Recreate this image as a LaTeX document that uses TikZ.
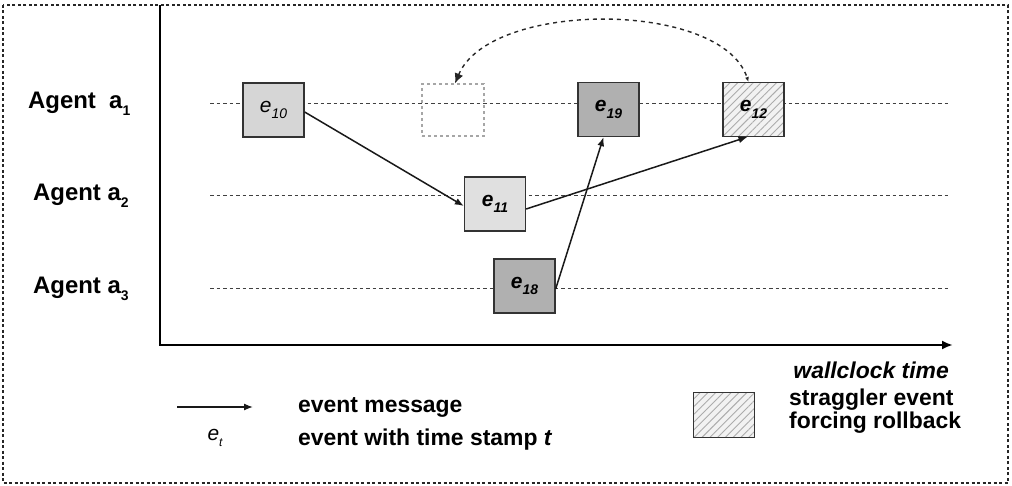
\documentclass[tikz,border=0pt]{standalone}
\usepackage{fontspec}
\setmainfont{Liberation Sans}
\usetikzlibrary{arrows.meta,patterns.meta}

% lowered small index, as in "a_1"
\newcommand{\lowidx}[2][14]{\raisebox{-0.3em}{\fontsize{#1}{#1}\selectfont #2}}
\newcommand{\evlabel}[1]{\fontsize{21}{21}\selectfont\itshape e\lowidx[14]{#1}}

\tikzset{
  frame/.style={line width=1.8bp, dash pattern=on 3bp off 2.5bp, black!85},
  axis/.style={line width=2.4bp, black, -{Latex[length=11bp,width=9bp]}},
  lane/.style={line width=1bp, dash pattern=on 3.5bp off 3bp, black!75},
  evbox/.style={draw=black!80, line width=1.3bp, minimum width=61bp,
    minimum height=54bp, inner sep=0pt},
  light/.style={evbox, fill=gray!32},
  lighter/.style={evbox, fill=gray!24},
  dark/.style={evbox, fill=gray!62},
  straggler/.style={evbox, preaction={fill=gray!10},
    pattern={Lines[angle=45,distance=5.5bp,line width=0.9bp]}, pattern color=gray!65},
  ghost/.style={draw=gray!70, line width=1.2bp, dash pattern=on 3bp off 3bp,
    minimum width=62bp, minimum height=52bp, inner sep=0pt},
  msg/.style={line width=1.5bp, black!90, -{Latex[length=9bp,width=7bp]}},
  rollback/.style={line width=1.4bp, black!85, dash pattern=on 4bp off 4bp,
    {Latex[length=10bp,width=9bp]}-{Latex[length=5bp,width=4bp]}},
  agent/.style={font=\fontsize{24}{26}\selectfont\bfseries, anchor=west, inner sep=0pt},
  legend/.style={font=\fontsize{23}{26}\selectfont\bfseries, anchor=west, inner sep=0pt},
}

\begin{document}
\begin{tikzpicture}[x=1bp,y=-1bp]
  \useasboundingbox (0,0) rectangle (1012,486);

  % outer dashed frame
  \draw[frame] (3,5) rectangle (1008,483);

  % time axes
  \coordinate (ytop) at (160,5);
  \coordinate (origin) at (160,345);
  \coordinate (xend) at (953,345);
  \draw[axis] (ytop) -- (origin) -- (xend);

  % agent lanes
  \foreach \k/\y in {1/104, 2/196, 3/289} {
    \coordinate (l\k s) at (210,\y);
    \coordinate (l\k e) at (950,\y);
    \draw[lane] (l\k s) -- (l\k e);
  }

  % agent labels
  \node[agent] (A1) at (28,104) {Agent\ \ a\lowidx{1}};
  \node[agent] (A2) at (33,196) {Agent a\lowidx{2}};
  \node[agent] (A3) at (33,289) {Agent a\lowidx{3}};

  % events
  \node[light]     (e10)   at (273.5,110) {\evlabel{10}};
  \node[ghost]     (ghost) at (453,110)   {};
  \node[dark]      (e19)   at (608.5,109.5) {\bfseries\evlabel{19}};
  \node[straggler] (e12)   at (753.5,109.5) {\bfseries\evlabel{12}};
  \node[lighter]   (e11)   at (495,204)   {\bfseries\evlabel{11}};
  \node[dark]      (e18)   at (524.5,286) {\bfseries\evlabel{18}};

  % event messages
  \draw[msg] ([yshift=-2bp]e10.east) -- ([yshift=-2bp]e11.west);
  \draw[msg] ([yshift=-5bp]e11.east) -- ([xshift=-6bp]e12.south);
  \draw[msg] ([yshift=-3bp]e18.east) -- ([xshift=-5bp]e19.south);

  % rollback
  \draw[rollback] ([xshift=2bp]ghost.north) .. controls (490,0) and (722,0) .. ([xshift=-5bp]e12.north);

  % wallclock label
  \node[font=\fontsize{23}{26}\selectfont\bfseries\itshape, anchor=east, inner sep=0pt]
    (wc) at (949,370) {wallclock time};

  % legend
  \coordinate (lgs) at (177,407);
  \coordinate (lge) at (253,407);
  \draw[msg, line width=1.3bp] (lgs) -- (lge);
  \node[legend] (lg1) at (298,407) {event message};
  \node[font=\fontsize{21}{21}\selectfont\itshape, inner sep=0pt] (lgev) at (215,438) {e\lowidx[12]{t}};
  \node[legend] (lg2) at (298,440) {event with time stamp \textit{t}};
  \node[straggler, minimum width=61bp, minimum height=45bp, line width=1bp] (lgst) at (724,415) {};
  \node[legend, align=left, anchor=west, font=\fontsize{23}{21}\selectfont\bfseries] (lg3) at (789,411) {straggler event\\forcing rollback};
\end{tikzpicture}
\end{document}
